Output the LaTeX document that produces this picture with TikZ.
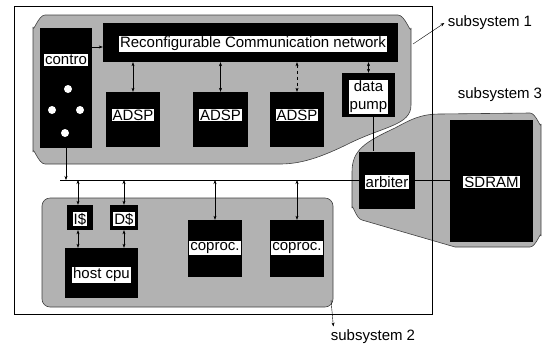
\documentclass[tikz,border=0pt]{standalone}
\usepackage{fontspec}
\setmainfont{Liberation Sans}
\usetikzlibrary{arrows.meta}

\begin{document}
\begin{tikzpicture}[x=1pt, y=-1pt,
    every node/.style={font=\fontsize{15}{17}\selectfont},
    blk/.style={fill=black, inner sep=0pt},
    lbl/.style={fill=white, inner sep=1pt},
    sub/.style={fill=black!30, draw=black!75, line width=0.6pt},
    >={Stealth[length=4pt, width=3pt]}]
    \useasboundingbox (0,0) rectangle (551,346);

    % shaded subsystems
    \filldraw[sub] (45,15) -- (398,15) to[out=0, in=-90] (411,28) -- (411,105)
        .. controls (411,125) and (385,126) .. (350,143)
        .. controls (320,158) and (300,164) .. (280,164)
        -- (45,164) to[out=180, in=90] (33,152) -- (33,27) to[out=-90, in=180] (45,15) -- cycle;
    \filldraw[sub] (352,208) -- (352,172)
        .. controls (352,150) and (365,142) .. (395,128)
        .. controls (410,120) and (420,114) .. (440,114)
        -- (530,113) to[out=0, in=-90] (541,124) -- (541,236)
        to[out=90, in=0] (530,247) -- (455,247) -- (362,220)
        to[out=170, in=90] (352,208) -- cycle;
    \filldraw[sub, rounded corners=8pt] (42,198) rectangle (333,307);

    % frame
    \draw[line width=1pt] (14,6) rectangle (432,314);

    % subsystem 1
    \node[blk, minimum width=52, minimum height=120] (ctrl) at (66,88) {};
    \node[lbl] (ctrllbl) at (66,60) {contro};
    \node[circle, fill=white, inner sep=0pt, minimum size=8] (dot1) at (68,89) {};
    \node[circle, fill=white, inner sep=0pt, minimum size=8] (dot2) at (52,110) {};
    \node[circle, fill=white, inner sep=0pt, minimum size=8] (dot3) at (80,110) {};
    \node[circle, fill=white, inner sep=0pt, minimum size=8] (dot4) at (65,133) {};

    \node[blk, minimum width=295, minimum height=39] (net) at (250.5,42.5) {};
    \node[lbl] (netlbl) at (253,44) {Reconfigurable Communication network};

    \node[blk, minimum width=54, minimum height=55] (adsp1) at (133,119.5) {};
    \node[blk, minimum width=55, minimum height=55] (adsp2) at (220.5,119.5) {};
    \node[blk, minimum width=54, minimum height=55] (adsp3) at (297,119.5) {};
    \node[lbl] (adsp1lbl) at (133,115) {ADSP};
    \node[lbl] (adsp2lbl) at (220.5,115) {ADSP};
    \node[lbl] (adsp3lbl) at (297,115) {ADSP};

    \node[blk, minimum width=53, minimum height=44] (pump) at (368.5,95) {};
    \node[lbl, align=center, font=\fontsize{15}{18}\selectfont] (pumplbl) at (368.5,97) {data\\pump};

    \draw[->] (ctrl.east |- 0,47) -- (net.west |- 0,47);
    \draw[<->] (adsp1.north |- net.south) -- (adsp1.north);
    \draw[<->] (adsp2.north |- net.south) -- (adsp2.north);
    \draw[<->, dashed] (adsp3.north |- net.south) -- (adsp3.north);
    \draw[<->] (pump.north |- net.south) -- (pump.north);

    % subsystem 3
    \node[blk, minimum width=56, minimum height=57] (arb) at (387,180) {};
    \node[lbl] (arblbl) at (387,182) {arbiter};
    \node[blk, minimum width=83, minimum height=122] (sdram) at (491.5,181) {};
    \node[lbl] (sdramlbl) at (491.5,182) {SDRAM};

    \draw ([xshift=5pt]pump.south) -- ([xshift=5pt]pump.south |- arb.north);
    \draw (arb.east) -- (sdram.west |- arb.east);

    % subsystem 2
    \node[blk, minimum width=26, minimum height=25] (icache) at (80,217.5) {};
    \node[lbl] (icachelbl) at (80,219) {I\$};
    \node[blk, minimum width=28, minimum height=25] (dcache) at (124,217.5) {};
    \node[lbl] (dcachelbl) at (124,219) {D\$};
    \node[blk, minimum width=73, minimum height=50] (cpu) at (101.5,273) {};
    \node[lbl] (cpulbl) at (101.5,275) {host cpu};
    \node[blk, minimum width=54, minimum height=57] (cop1) at (215,248.5) {};
    \node[lbl] (cop1lbl) at (215,248) {coproc.};
    \node[blk, minimum width=54, minimum height=57] (cop2) at (297,248.5) {};
    \node[lbl] (cop2lbl) at (297,248) {coproc.};

    % bus
    \coordinate (busL) at (60,180);
    \draw (busL) -- (arb.west);
    \draw[->] (ctrl.south) -- (ctrl.south |- busL);
    \draw[<->] ([xshift=-2pt]icache.north |- busL) -- ([xshift=-2pt]icache.north);
    \draw[<->] (dcache.north |- busL) -- (dcache.north);
    \draw[<->] (cop1.north |- busL) -- (cop1.north);
    \draw[<->] (cop2.north |- busL) -- (cop2.north);
    \draw[<->] ([xshift=-2pt]icache.south) -- ([xshift=-2pt]icache.south |- cpu.north);
    \draw[<->] (dcache.south) -- (dcache.south |- cpu.north);

    % subsystem labels
    \node (ss1lbl) at (490,23) {subsystem 1};
    \node (ss3lbl) at (500,95) {subsystem 3};
    \node (ss2lbl) at (373,337) {subsystem 2};
    \coordinate (ss1pt) at (413,44);
    \coordinate (ss2pt) at (331,300);
    \draw[->] (ss1pt) -- (ss1lbl.west);
    \draw[->] (ss2pt) -- ([xshift=6pt]ss2lbl.north west);
\end{tikzpicture}
\end{document}
